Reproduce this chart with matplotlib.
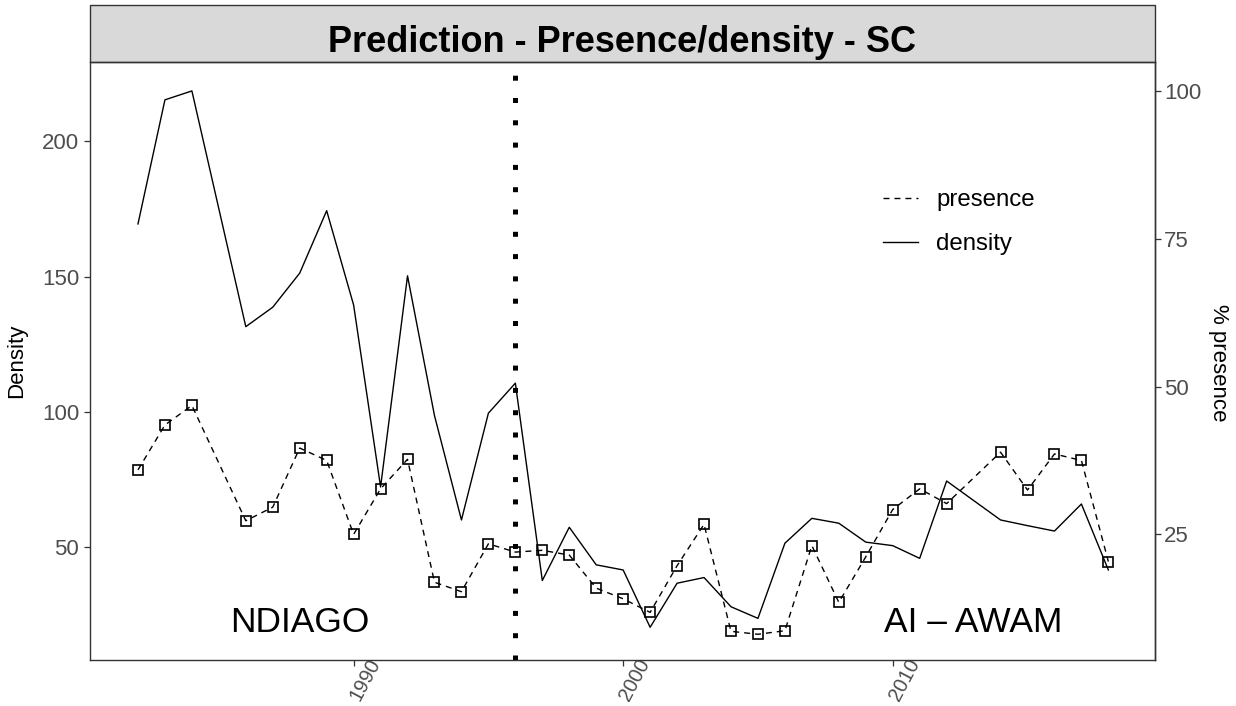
import numpy as np
import matplotlib
matplotlib.use("Agg")
import matplotlib.pyplot as plt
from matplotlib.patches import Rectangle
from matplotlib.transforms import ScaledTranslation

plt.rcParams["font.family"] = ["Liberation Sans", "DejaVu Sans"]

# Data (1985 and 2013 have no value)
years = [1982, 1983, 1984, 1986, 1987, 1988, 1989, 1990, 1991, 1992,
         1993, 1994, 1995, 1996, 1997, 1998, 1999, 2000, 2001, 2002,
         2003, 2004, 2005, 2006, 2007, 2008, 2009, 2010, 2011, 2012,
         2014, 2015, 2016, 2017, 2018]
density = [169.5, 215.4, 218.7, 131.5, 138.7, 151.3, 174.4, 139.5, 72.2, 150.3,
           98.6, 60.0, 99.5, 110.6, 37.6, 57.3, 43.4, 41.5, 20.3, 36.6,
           38.7, 27.9, 23.6, 51.4, 60.6, 58.8, 51.8, 50.5, 45.8, 74.4,
           60.0, 57.9, 55.9, 65.9, 41.5]
presence = [35.9, 43.5, 46.8, 27.3, 29.6, 39.6, 37.5, 25.0, 32.7, 37.7,
            16.9, 15.3, 23.4, 22.0, 22.3, 21.5, 15.9, 14.1, 11.8, 19.7,
            26.7, 8.6, 8.1, 8.7, 23.1, 13.5, 21.2, 29.2, 32.7, 30.2,
            38.9, 32.5, 38.6, 37.5, 20.4]
split_year = 1996
x_ticks = [1990, 2000, 2010]
left_ticks = [50, 100, 150, 200]
right_ticks = [25, 50, 75, 100]

# secondary axis scale (% presence = density / K)
K = max(density) / 100

years = np.array(years)
density = np.array(density)
presence_scaled = np.array(presence) * K

fig = plt.figure(figsize=(12.36, 7.06), dpi=100)
ax = fig.add_axes([90 / 1236, 46 / 706, 1065 / 1236, 598 / 706])

ax.plot(years, presence_scaled, color="black", lw=1.0,
        linestyle=(0, (4.3, 3.6)), label="presence")
ax.plot(years, presence_scaled, linestyle="none", marker="s", ms=7.2,
        mfc="none", mec="black", mew=1.2)
ax.plot(years, density, color="black", lw=1.0, label="density")
ax.axvline(split_year, color="black", lw=3.6, linestyle=(0, (1, 3.46)))

ax.text(1988, 18.4, "NDIAGO", fontsize=25.5, ha="center", va="baseline")
ax.text(2013, 18.4, "AI – AWAM", fontsize=25.5, ha="center", va="baseline")

ax.set_xlim(1980.22, 2019.73)
ax.set_ylim(8.2, 229.4)
ax.set_xticks(x_ticks)
ax.set_yticks(left_ticks)

for sp in ax.spines.values():
    sp.set_color("#333333")
    sp.set_linewidth(1.0)

ax.tick_params(axis="y", length=4.3, width=0.9, color="#333333",
               labelcolor="#4D4D4D", labelsize=16, pad=3.5)
ax.tick_params(axis="x", length=4.3, width=0.9, color="#333333",
               labelcolor="#4D4D4D", labelsize=14.5, pad=-4.3)
for lab in ax.get_xticklabels():
    lab.set_rotation(62)
    lab.set_rotation_mode("anchor")
    lab.set_ha("right")
    lab.set_va("center")
    lab.set_transform(lab.get_transform() + ScaledTranslation(16 / 72, 0, fig.dpi_scale_trans))

ax.set_ylabel("Density", fontsize=16)
ax.yaxis.set_label_coords(-0.059, 0.5)

sec = ax.secondary_yaxis("right", functions=(lambda d: d / K, lambda p: p * K))
sec.set_yticks(right_ticks)
sec.spines["right"].set_color("#333333")
sec.spines["right"].set_linewidth(1.0)
sec.tick_params(length=4.3, width=0.9, color="#333333", labelcolor="#4D4D4D",
                labelsize=16, pad=2)
ax.text(1.0595, 0.497, "% presence", transform=ax.transAxes, fontsize=16,
        rotation=270, ha="center", va="center")

ax.legend(loc="upper left", bbox_to_anchor=(0.745, 0.787), frameon=False,
          fontsize=17.3, handlelength=1.45, handletextpad=0.75,
          labelspacing=0.9, borderpad=0, borderaxespad=0)

# facet strip with title
strip_h = 57 / 598
ax.add_patch(Rectangle((0, 1), 1, strip_h, transform=ax.transAxes,
                       facecolor="#D9D9D9", edgecolor="#333333", lw=1.0,
                       clip_on=False))
ax.text(0.5, 1.0167, "Prediction - Presence/density - SC", transform=ax.transAxes,
        fontsize=26, fontweight="bold", ha="center", va="baseline")

fig.savefig("out.png", dpi=100)
